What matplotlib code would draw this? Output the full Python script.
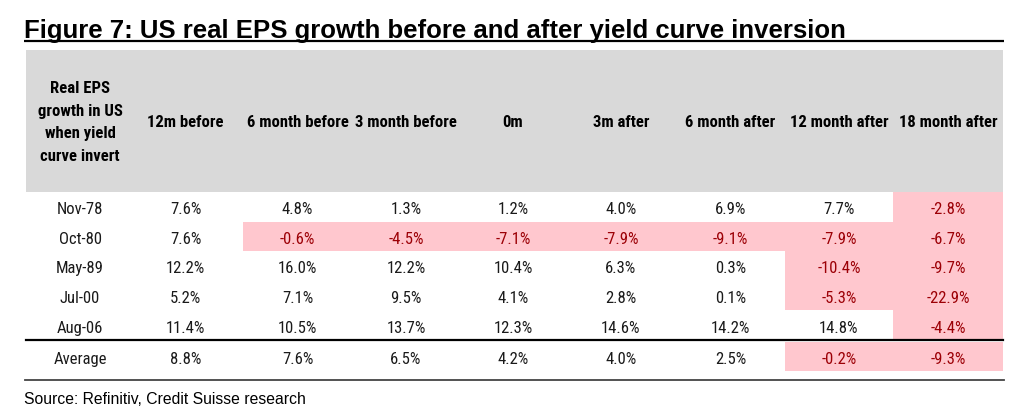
import numpy as np
import matplotlib.pyplot as plt
from matplotlib import font_manager as fm
from matplotlib.patches import Rectangle

plt.rcParams['font.family'] = ['Liberation Sans', 'DejaVu Sans']

TITLE = "Figure 7: US real EPS growth before and after yield curve inversion"
SOURCE = "Source: Refinitiv, Credit Suisse research"

corner_label = "Real EPS\ngrowth in US\nwhen yield\ncurve invert"
columns = ["12m before", "6 month before", "3 month before", "0m",
           "3m after", "6 month after", "12 month after", "18 month after"]
rows = ["Nov-78", "Oct-80", "May-89", "Jul-00", "Aug-06"]
avg_label = "Average"

nov78 = [7.6, 4.8, 1.3, 1.2, 4.0, 6.9, 7.7, -2.8]
oct80 = [7.6, -0.6, -4.5, -7.1, -7.9, -9.1, -7.9, -6.7]
may89 = [12.2, 16.0, 12.2, 10.4, 6.3, 0.3, -10.4, -9.7]
jul00 = [5.2, 7.1, 9.5, 4.1, 2.8, 0.1, -5.3, -22.9]
aug06 = [11.4, 10.5, 13.7, 12.3, 14.6, 14.2, 14.8, -4.4]
average = [8.8, 7.6, 6.5, 4.2, 4.0, 2.5, -0.2, -9.3]

values = np.array([nov78, oct80, may89, jul00, aug06, average])
labels = rows + [avg_label]


# ---------- the table uses a narrow face, pick one if installed ----------
def pick_narrow():
    names = {f.name for f in fm.fontManager.ttflist}
    for cand in ["Liberation Sans Narrow", "Arial Narrow", "Roboto Condensed",
                 "Noto Sans Condensed", "Open Sans Condensed"]:
        if cand in names:
            return {"family": cand}, 12
    for f in fm.fontManager.ttflist:
        if f.name in ("Noto Sans", "Roboto", "Open Sans") and f.stretch in ("condensed", 75, "semi-condensed", 87.5):
            return {"family": f.name, "fontstretch": "condensed"}, 12
    return {"family": "Liberation Sans"}, 10.6


TFONT, FS = pick_narrow()

# ---------- layout (pixels) ----------
W, H = 1024, 414
col_edges = [26, 128, 243, 352, 460, 566, 676, 785, 893, 1003]
head_top, head_bot = 51, 193
row_h = 29.6
GREY = "#d9d9d9"
PINK = "#ffc7ce"
DARKRED = "#9c0006"
TXT = "#1a1a1a"

fig = plt.figure(figsize=(W / 100, H / 100), dpi=100)
ax = fig.add_axes([0, 0, 1, 1])
ax.set_xlim(0, W)
ax.set_ylim(H, 0)
ax.axis("off")

# title
ax.text(24, 38, TITLE, fontsize=18.5, fontweight="bold", ha="left", va="baseline")
ax.plot([24, 1004], [41.5, 41.5], color="black", lw=1.6, solid_capstyle="butt")

# header
ax.add_patch(Rectangle((col_edges[0], head_top), col_edges[-1] - col_edges[0],
                       head_bot - head_top, facecolor=GREY, edgecolor="none"))
centers = [(col_edges[i] + col_edges[i + 1]) / 2 for i in range(len(col_edges) - 1)]
centers[0] = 80
ax.text(centers[0], 122.5, corner_label, ha="center", va="center",
        fontsize=FS, fontweight="bold", linespacing=1.66, **TFONT)
for j, name in enumerate(columns):
    ax.text(centers[j + 1], 122.5, name, ha="center", va="center",
            fontsize=FS, fontweight="bold", **TFONT)

# body
for i, lab in enumerate(labels):
    top = head_bot + i * row_h
    if i == len(labels) - 1:
        top += 1.5
    cy = top + row_h / 2 + 2
    ax.text(centers[0], cy, lab, ha="center", va="center", fontsize=FS, color=TXT, **TFONT)
    for j, v in enumerate(values[i]):
        neg = v < 0
        if neg:
            x0, x1 = col_edges[j + 1], col_edges[j + 2]
            ax.add_patch(Rectangle((x0, top), x1 - x0, row_h,
                                   facecolor=PINK, edgecolor="none"))
        ax.text(centers[j + 1], cy, f"{v:.1f}%", ha="center", va="center",
                fontsize=FS, color=DARKRED if neg else TXT, **TFONT)

sep_y = head_bot + len(rows) * row_h
ax.plot([col_edges[0], col_edges[-1]], [sep_y, sep_y], color="black", lw=1.6)
bot_y = sep_y + 1.5 + row_h + 9
ax.plot([col_edges[0] - 1, col_edges[-1] + 1], [bot_y, bot_y], color="#444444", lw=1.3)

ax.text(24, 404, SOURCE, ha="left", va="baseline", fontsize=11.3)

fig.savefig("out.png", dpi=100)
